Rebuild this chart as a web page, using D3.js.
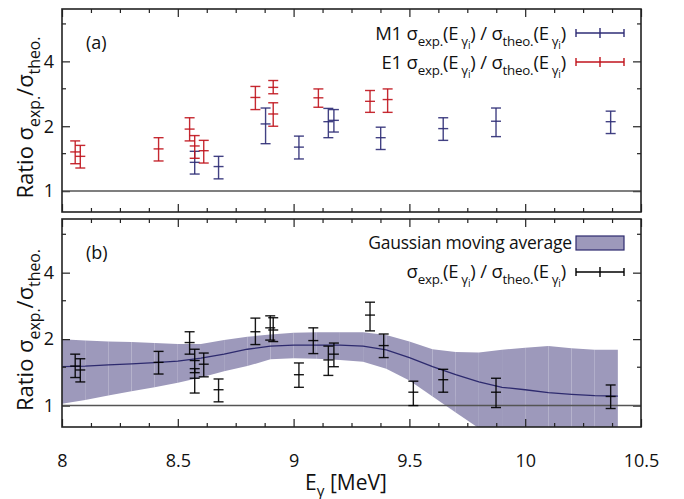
<!DOCTYPE html>
<html>
<head>
<meta charset="utf-8">
<script src="https://cdn.jsdelivr.net/npm/d3@7"></script>
<style>
  body { margin: 0; background: #fff; }
  svg { display: block; font-family: "Open Sans", sans-serif; }
</style>
</head>
<body>
<svg id="chart" width="684" height="499"></svg>
<script>
// panel (a): E1 ratios
const e1Energy = [8.057, 8.079, 8.417, 8.551, 8.573, 8.612, 8.835, 8.912, 8.912, 9.107, 9.330, 9.406];
const e1Ratio  = [1.52, 1.45, 1.57, 1.94, 1.62, 1.54, 2.72, 3.03, 2.28, 2.71, 2.61, 2.66];
const e1Low    = [1.34, 1.28, 1.38, 1.71, 1.42, 1.35, 2.39, 2.83, 2.00, 2.45, 2.32, 2.32];
const e1High   = [1.71, 1.63, 1.77, 2.19, 1.81, 1.72, 3.06, 3.26, 2.57, 2.98, 2.93, 2.98];

// panel (a): M1 ratios
const m1Energy = [8.573, 8.676, 8.879, 9.023, 9.150, 9.174, 9.376, 9.646, 9.874, 10.369];
const m1Ratio  = [1.36, 1.30, 2.05, 1.60, 2.10, 2.13, 1.77, 1.95, 2.11, 2.10];
const m1Low    = [1.20, 1.14, 1.66, 1.41, 1.77, 1.88, 1.56, 1.72, 1.79, 1.85];
const m1High   = [1.53, 1.45, 2.43, 1.80, 2.42, 2.39, 1.98, 2.19, 2.43, 2.35];

// panel (b): all ratios
const allEnergy = [8.057, 8.079, 8.417, 8.551, 8.573, 8.573, 8.612, 8.676, 8.835, 8.899, 8.912,
                   9.023, 9.085, 9.150, 9.174, 9.330, 9.389, 9.517, 9.646, 9.874, 10.369];
const allRatio  = [1.51, 1.45, 1.57, 1.93, 1.60, 1.33, 1.54, 1.18, 2.16, 2.25, 2.20,
                   1.38, 1.97, 1.61, 1.71, 2.57, 1.87, 1.15, 1.31, 1.15, 1.10];
const allLow    = [1.34, 1.28, 1.39, 1.71, 1.41, 1.14, 1.35, 1.04, 1.89, 1.98, 1.95,
                   1.21, 1.72, 1.37, 1.50, 2.18, 1.65, 1.00, 1.15, 0.98, 0.97];
const allHigh   = [1.71, 1.63, 1.76, 2.16, 1.80, 1.47, 1.73, 1.32, 2.49, 2.55, 2.50,
                   1.56, 2.25, 1.86, 1.92, 2.94, 2.11, 1.29, 1.46, 1.33, 1.24];

// panel (b): gaussian moving average
const avgEnergy = [8.0, 8.1, 8.2, 8.3, 8.4, 8.5, 8.6, 8.7, 8.8, 8.9, 9.0, 9.1, 9.2,
                   9.3, 9.4, 9.5, 9.6, 9.7, 9.8, 9.9, 10.0, 10.1, 10.2, 10.3, 10.4];
const avgMean  = [1.50, 1.51, 1.53, 1.545, 1.565, 1.59, 1.64, 1.71, 1.80, 1.86, 1.88, 1.88, 1.877,
                  1.86, 1.79, 1.65, 1.50, 1.38, 1.28, 1.21, 1.18, 1.145, 1.125, 1.11, 1.105];
const avgUpper = [2.00, 1.97, 1.95, 1.94, 1.92, 1.90, 1.90, 1.98, 2.05, 2.10, 2.14, 2.15, 2.15,
                  2.15, 2.09, 1.95, 1.80, 1.75, 1.74, 1.79, 1.83, 1.86, 1.82, 1.79, 1.79];
const avgLower = [1.02, 1.06, 1.11, 1.16, 1.21, 1.27, 1.34, 1.43, 1.51, 1.62, 1.64, 1.63, 1.61,
                  1.58, 1.47, 1.30, 1.10, 0.93, 0.79, 0.67, 0.57, 0.50, 0.45, 0.42, 0.40];

const xTicks = [8, 8.5, 9, 9.5, 10, 10.5];
const yTicks = [1, 2, 4];
const yMinor = [1.5, 3, 6];

const blue = '#2e2c76', red = '#c0131c', bandFill = '#9d99bb', navy = '#2d2a6e';

const svg = d3.select('#chart');
const x = d3.scaleLinear().domain([8, 10.5]).range([62, 641]);
const xMinor = d3.range(8, 10.5001, 0.125).filter(v => Math.abs(v * 2 - Math.round(v * 2)) > 1e-6);

const panels = [
  { key: 'a', top: 9, bottom: 212 },
  { key: 'b', top: 219, bottom: 427 }
];
panels.forEach(p => {
  p.y = d3.scaleLog().base(2).domain([0.8, 7]).range([p.bottom, p.top]);
});

// subscripts as tspans: segments of [text, level, dx]
function richText(sel, segs, size) {
  const off = [0, size * 0.3, size * 0.5];
  const fs = [size, size * 0.72, size * 0.55];
  let prev = 0;
  segs.forEach(s => {
    const lvl = s[1];
    sel.append('tspan')
      .attr('dy', off[lvl] - off[prev])
      .attr('dx', s[2] || 0)
      .attr('font-size', fs[lvl])
      .text(s[0]);
    prev = lvl;
  });
}

function drawAxes(g, p, withXLabels) {
  const y = p.y;
  const tick = (axis, tr, values, size, fmt, pad) => {
    const a = g.append('g').attr('transform', tr)
      .call(axis.tickValues(values).tickSize(size).tickPadding(pad || 8).tickFormat(fmt));
    a.select('.domain').remove();
    a.selectAll('line').attr('stroke', '#222').attr('stroke-width', 1.2);
    a.selectAll('text').attr('font-size', 18).attr('fill', '#111')
      .attr('font-family', '"Open Sans", sans-serif');
    return a;
  };
  tick(d3.axisLeft(y), `translate(${x.range()[0]},0)`, yTicks, -8, d3.format('d'));
  tick(d3.axisLeft(y), `translate(${x.range()[0]},0)`, yMinor, -4, () => '');
  tick(d3.axisRight(y), `translate(${x.range()[1]},0)`, yTicks, -8, () => '');
  tick(d3.axisRight(y), `translate(${x.range()[1]},0)`, yMinor, -4, () => '');
  tick(d3.axisTop(x), `translate(0,${p.top})`, xTicks, -8, () => '');
  tick(d3.axisTop(x), `translate(0,${p.top})`, xMinor, -4, () => '');
  tick(d3.axisBottom(x), `translate(0,${p.bottom})`, xTicks, -8,
       withXLabels ? d3.format('') : () => '', 27);
  tick(d3.axisBottom(x), `translate(0,${p.bottom})`, xMinor, -4, () => '');

  // reference line at ratio 1
  g.append('line')
    .attr('x1', x.range()[0]).attr('x2', x.range()[1])
    .attr('y1', y(1)).attr('y2', y(1))
    .attr('stroke', '#555').attr('stroke-width', 1.5);

  g.append('rect')
    .attr('x', x.range()[0]).attr('y', p.top)
    .attr('width', x.range()[1] - x.range()[0]).attr('height', p.bottom - p.top)
    .attr('fill', 'none').attr('stroke', '#222').attr('stroke-width', 1.6);

  g.append('text')
    .attr('transform', `translate(33,${(p.top + p.bottom) / 2 + 7}) rotate(-90)`)
    .attr('text-anchor', 'middle').attr('fill', '#111')
    .call(richText, [['Ratio σ', 0], ['exp.', 1], ['/σ', 0], ['theo.', 1]], 22);
}

function errorBars(g, y, energy, ratio, low, high, color) {
  const d = energy.map((e, i) => ({ e, r: ratio[i], lo: low[i], hi: high[i] }));
  const bar = g.append('g').attr('stroke', color).attr('stroke-width', 1.4)
    .attr('stroke-opacity', 0.9).selectAll('g').data(d).join('g');
  bar.append('line').attr('x1', v => x(v.e)).attr('x2', v => x(v.e))
    .attr('y1', v => y(v.lo)).attr('y2', v => y(v.hi));
  [v => y(v.lo), v => y(v.hi), v => y(v.r)].forEach(fy => {
    bar.append('line').attr('x1', v => x(v.e) - 5).attr('x2', v => x(v.e) + 5)
      .attr('y1', fy).attr('y2', fy);
  });
}

function legendBar(g, yPos, color) {
  const l = g.append('g').attr('stroke', color).attr('stroke-width', 1.4);
  l.append('line').attr('x1', 576).attr('x2', 624).attr('y1', yPos).attr('y2', yPos);
  [576, 624].forEach(xx => l.append('line').attr('x1', xx).attr('x2', xx)
    .attr('y1', yPos - 4).attr('y2', yPos + 4));
  l.append('line').attr('x1', 600).attr('x2', 600).attr('y1', yPos - 5).attr('y2', yPos + 5);
}

const ratioLabel = [['σ', 0], ['exp.', 1], ['(E', 0], ['γ', 1, 3], ['i', 2], [')', 0],
                    [' / σ', 0], ['theo.', 1], ['(E', 0], ['γ', 1, 3], ['i', 2], [')', 0]];

// ---- panel (a)
const pa = panels[0];
const ga = svg.append('g');
drawAxes(ga, pa, false);
errorBars(ga, pa.y, m1Energy, m1Ratio, m1Low, m1High, blue);
errorBars(ga, pa.y, e1Energy, e1Ratio, e1Low, e1High, red);
ga.append('text').attr('x', 86).attr('y', 49).attr('font-size', 18).attr('fill', '#111').text('(a)');
ga.append('text').attr('x', 566).attr('y', 40).attr('text-anchor', 'end').attr('fill', '#111')
  .attr('letter-spacing', -0.2)
  .call(richText, [['M1 ', 0]].concat(ratioLabel), 18.5);
ga.append('text').attr('x', 566).attr('y', 69).attr('text-anchor', 'end').attr('fill', '#111')
  .attr('letter-spacing', -0.2)
  .call(richText, [['E1 ', 0]].concat(ratioLabel), 18.5);
legendBar(ga, 33, blue);
legendBar(ga, 62, red);

// ---- panel (b)
const pb = panels[1];
const gb = svg.append('g');
svg.append('clipPath').attr('id', 'clipb').append('rect')
  .attr('x', x.range()[0]).attr('y', pb.top)
  .attr('width', x.range()[1] - x.range()[0]).attr('height', pb.bottom - pb.top);

const band = avgEnergy.slice(0, -1).map((e, i) => [
  [x(e), pb.y(avgUpper[i])], [x(avgEnergy[i + 1]), pb.y(avgUpper[i + 1])],
  [x(avgEnergy[i + 1]), pb.y(avgLower[i + 1])], [x(e), pb.y(avgLower[i])]
]);
const bandG = gb.append('g').attr('clip-path', 'url(#clipb)');
bandG.selectAll('path').data(band).join('path')
  .attr('d', d => 'M' + d.join('L') + 'Z')
  .attr('fill', bandFill);
bandG.append('path')
  .datum(avgEnergy.map((e, i) => [e, avgMean[i]]))
  .attr('d', d3.line().x(d => x(d[0])).y(d => pb.y(d[1])))
  .attr('fill', 'none').attr('stroke', navy).attr('stroke-width', 1.3);

drawAxes(gb, pb, true);
errorBars(gb, pb.y, allEnergy, allRatio, allLow, allHigh, '#000');
gb.append('text').attr('x', 86).attr('y', 259).attr('font-size', 18).attr('fill', '#111').text('(b)');
gb.append('text').attr('x', 572).attr('y', 249).attr('text-anchor', 'end').attr('fill', '#111')
  .attr('font-size', 17.5).attr('letter-spacing', -0.2).text('Gaussian moving average');
gb.append('rect').attr('x', 576).attr('y', 236).attr('width', 48).attr('height', 14)
  .attr('fill', bandFill).attr('stroke', navy).attr('stroke-width', 1.2);
gb.append('text').attr('x', 566).attr('y', 278).attr('text-anchor', 'end').attr('fill', '#111')
  .attr('letter-spacing', -0.2)
  .call(richText, ratioLabel, 18.5);
legendBar(gb, 272, '#000');

// x axis title
svg.append('text').attr('x', 346).attr('y', 490).attr('text-anchor', 'middle').attr('fill', '#111')
  .call(richText, [['E', 0], ['γ', 1], [' [MeV]', 0]], 21);
</script>
</body>
</html>
